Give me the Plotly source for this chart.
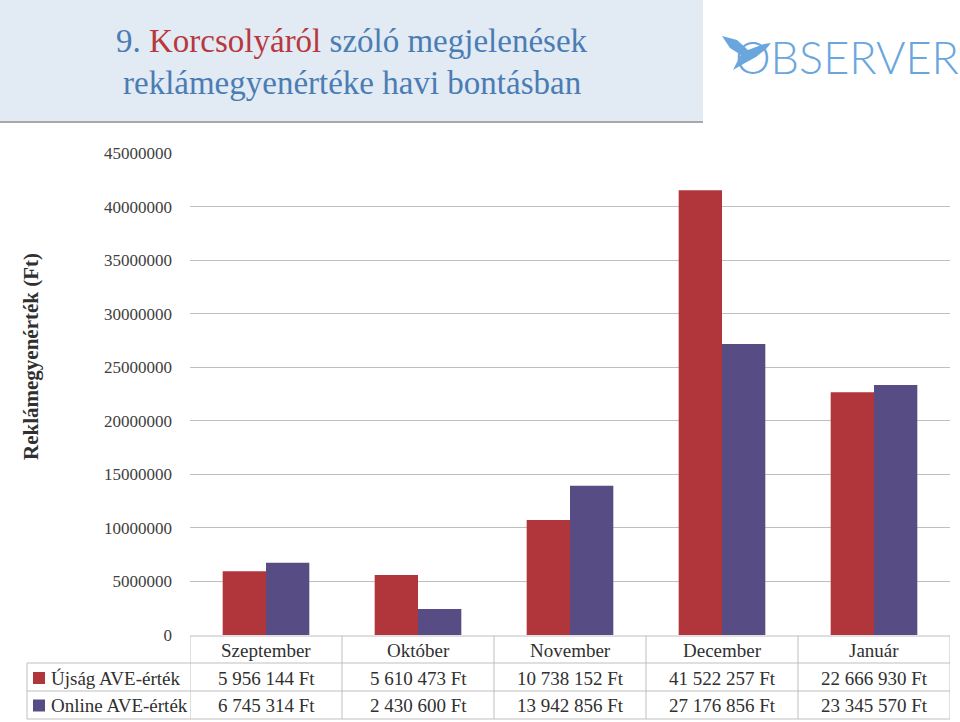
import plotly.graph_objects as go

months = ["Szeptember", "Október", "November", "December", "Január"]
ujsag = [5956144, 5610473, 10738152, 41522257, 22666930]
online = [6745314, 2430600, 13942856, 27176856, 23345570]
series_names = ["Újság AVE-érték", "Online AVE-érték"]
colors = ["#b0363b", "#574c84"]

W, H = 960, 722
L, R, T, B = 190, 10, 153, 87
PW, PH = W - L - R, H - T - B


def px(x):
    return (x - L) / PW


def py(y):
    return (H - B - y) / PH


def fmt(v):
    return f"{v:,}".replace(",", " ") + " Ft"


SERIF = "Liberation Serif, serif"
GRID = "#bfbfbf"
TXT = "#303030"

fig = go.Figure()
for name, vals, col in zip(series_names, [ujsag, online], colors):
    fig.add_trace(go.Bar(x=list(range(len(months))), y=vals, name=name,
                         marker=dict(color=col, line=dict(width=0))))

fig.update_layout(
    width=W, height=H,
    margin=dict(l=L, r=R, t=T, b=B, autoexpand=False),
    paper_bgcolor="white", plot_bgcolor="white",
    barmode="group", bargap=0.43, bargroupgap=0,
    showlegend=False,
    font=dict(family=SERIF, color="#404040"),
    xaxis=dict(range=[-0.5, len(months) - 0.5], showticklabels=False,
               showgrid=False, zeroline=False, fixedrange=True),
    yaxis=dict(range=[0, 45000000], dtick=5000000, tickformat="d",
               showgrid=True, gridcolor=GRID, gridwidth=1, zeroline=False,
               ticklabelstandoff=17, tickfont=dict(size=17, color="#404040")),
)


def note(x, y, text, size=19, xanchor="center", xref="paper", angle=0, **kw):
    fig.add_annotation(x=x, y=y, xref=xref, yref="paper", text=text,
                       showarrow=False, xanchor=xanchor, yanchor="middle",
                       textangle=angle,
                       font=dict(size=size, color=kw.pop("color", TXT),
                                 family=kw.pop("family", SERIF), **kw))


# axis title
note(px(31), py(357), "<b>Reklámegyenérték (Ft)</b>", size=21, angle=-90)

# header box
fig.add_shape(type="rect", xref="paper", yref="paper",
              x0=px(0), x1=px(703), y0=py(122), y1=py(0),
              fillcolor="#e2eaf4", line=dict(width=0), layer="below")
fig.add_shape(type="line", xref="paper", yref="paper",
              x0=px(0), x1=px(703), y0=py(122), y1=py(122),
              line=dict(color="#a8a8a8", width=2))
TBLUE = "#4a7db3"
note(px(352), py(41), '9. <span style="color:#b8383d">Korcsolyáról</span> szóló megjelenések',
     size=33, color=TBLUE)
note(px(352), py(83), "reklámegyenértéke havi bontásban", size=33, color=TBLUE)

# logo
note(px(847), py(57), "OBSERVER", size=45, family="Lato", color="#6aa6de",
     weight=300)
bird = [(722, 36), (737, 40), (748, 50), (764, 44), (771, 43), (766, 49),
        (756, 57), (745, 63), (733, 70), (738, 60), (741, 55), (730, 48)]
path = "M " + " L ".join(f"{px(x)},{py(y)}" for x, y in bird) + " Z"
fig.add_shape(type="path", xref="paper", yref="paper", path=path,
              fillcolor="#6aa6de", line=dict(width=0))

# data table
row_y = [636, 663, 691, 719]
edges = [i - 0.5 for i in range(len(months) + 1)]
for y in row_y:
    x0 = px(190) if y == 636 else px(27)
    fig.add_shape(type="line", xref="paper", yref="paper", x0=x0, x1=1,
                  y0=py(y), y1=py(y), line=dict(color=GRID, width=1))
for e in edges:
    fig.add_shape(type="line", xref="x", yref="paper", x0=e, x1=e,
                  y0=py(636), y1=py(719), line=dict(color=GRID, width=1))
fig.add_shape(type="line", xref="paper", yref="paper", x0=px(27), x1=px(27),
              y0=py(663), y1=py(719), line=dict(color=GRID, width=1))

for i, m in enumerate(months):
    note(i, py(650), m, xref="x")
    for r, vals in enumerate([ujsag, online]):
        note(i, py(678 + 27.5 * r), fmt(vals[i]), xref="x")

for r, (name, col) in enumerate(zip(series_names, colors)):
    yc = 678 + 27.5 * r
    fig.add_shape(type="rect", xref="paper", yref="paper",
                  x0=px(33), x1=px(45), y0=py(yc + 6), y1=py(yc - 6),
                  fillcolor=col, line=dict(width=0))
    note(px(49), py(yc), name, xanchor="left")

fig.write_html("out.html", config={"displayModeBar": False},
               post_script="document.body.style.margin='0';")
